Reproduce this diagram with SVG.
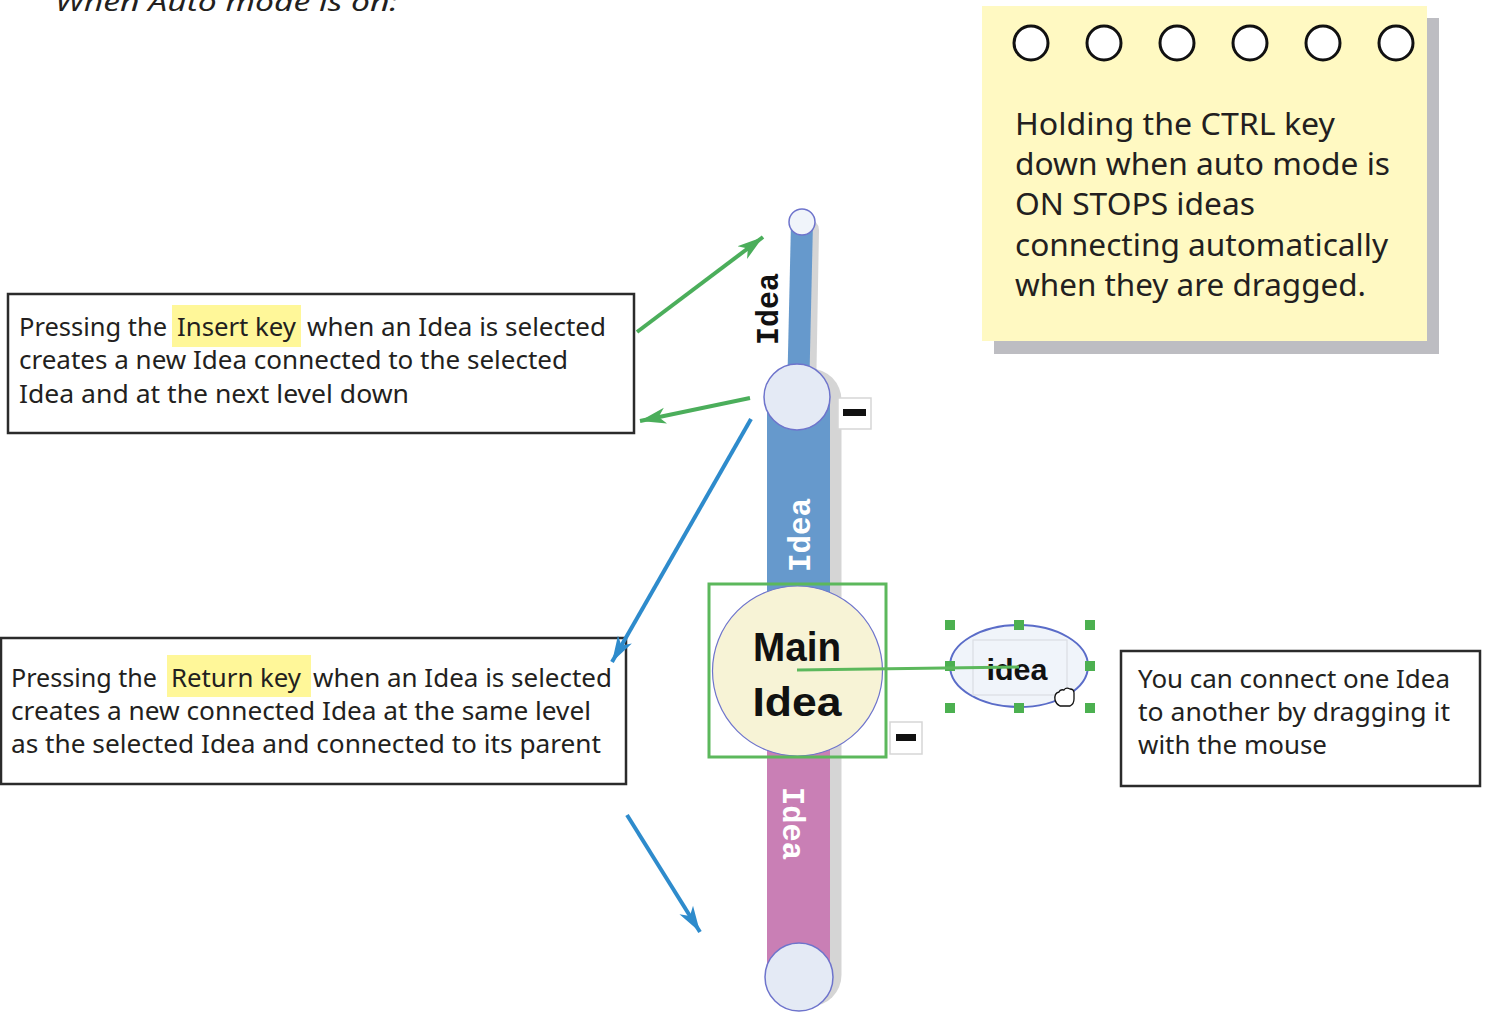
<svg xmlns="http://www.w3.org/2000/svg" width="1487" height="1018" viewBox="0 0 1487 1018">
  <style>
    .note { font-family: "Noto Sans", "Open Sans", sans-serif; font-size: 26px; fill: #231F20; }
    .sticky { font-family: "Noto Sans", "Open Sans", sans-serif; font-size: 30px; fill: #231F20; }
    .box { fill: #FFFFFF; stroke: #2B2B2B; stroke-width: 2.5; }
    .hl { fill: #FFF799; }
    .ring { fill: #FFFFFF; stroke: #111111; stroke-width: 3; }
    .lbl { font-family: "Liberation Mono", "DejaVu Sans Mono", monospace; font-weight: bold; font-size: 32px; }
    .bubble { fill: #E4EAF5; stroke: #6E74CC; stroke-width: 1.5; }
    .minus-box { fill: #FFFFFF; stroke: #D6D6D6; stroke-width: 1.5; }
    .handle { fill: #4CB050; }
    .green { stroke: #4BAE5B; stroke-width: 4; fill: none; }
    .blue { stroke: #2E8BCC; stroke-width: 4; fill: none; }
  </style>
  <defs>
    <marker id="head-green" markerUnits="userSpaceOnUse" markerWidth="28" markerHeight="18" refX="26" refY="9" orient="auto">
      <path d="M0,1 L26,9 L0,17 L7,9 z" fill="#4BAE5B"/>
    </marker>
    <marker id="head-blue" markerUnits="userSpaceOnUse" markerWidth="28" markerHeight="18" refX="26" refY="9" orient="auto">
      <path d="M0,1 L26,9 L0,17 L7,9 z" fill="#2E8BCC"/>
    </marker>
  </defs>

  <rect width="1487" height="1018" fill="#FFFFFF"/>

  <!-- heading, mostly cropped at the top edge -->
  <text x="55" y="11" class="note" font-size="29" font-style="italic" textLength="343" lengthAdjust="spacingAndGlyphs">When Auto mode is on:</text>

  <!-- sticky note about the CTRL key -->
  <g id="sticky-note">
    <rect x="994" y="18" width="445" height="336" fill="#BDBDC2"/>
    <rect x="982" y="6" width="445" height="335" fill="#FFF9C2"/>
    <circle cx="1031" cy="43" r="17" class="ring"/>
    <circle cx="1104" cy="43" r="17" class="ring"/>
    <circle cx="1177" cy="43" r="17" class="ring"/>
    <circle cx="1250" cy="43" r="17" class="ring"/>
    <circle cx="1323" cy="43" r="17" class="ring"/>
    <circle cx="1396" cy="43" r="17" class="ring"/>
    <text x="1015" y="135" class="sticky" textLength="320" lengthAdjust="spacingAndGlyphs">Holding the CTRL key</text>
    <text x="1015" y="175" class="sticky" textLength="375" lengthAdjust="spacingAndGlyphs">down when auto mode is</text>
    <text x="1015" y="215" class="sticky" textLength="240" lengthAdjust="spacingAndGlyphs">ON STOPS ideas</text>
    <text x="1015" y="256" class="sticky" textLength="373" lengthAdjust="spacingAndGlyphs">connecting automatically</text>
    <text x="1015" y="296" class="sticky" textLength="351" lengthAdjust="spacingAndGlyphs">when they are dragged.</text>
  </g>

  <!-- Insert key note -->
  <g id="insert-note">
    <rect x="8" y="294" width="626" height="139" class="box"/>
    <rect x="172" y="305" width="129" height="42" class="hl"/>
    <text x="19" y="336" class="note" textLength="148" lengthAdjust="spacingAndGlyphs">Pressing the</text>
    <text x="177" y="336" class="note" textLength="119" lengthAdjust="spacingAndGlyphs">Insert key</text>
    <text x="307" y="336" class="note" textLength="299" lengthAdjust="spacingAndGlyphs">when an Idea is selected</text>
    <text x="19" y="369" class="note" textLength="549" lengthAdjust="spacingAndGlyphs">creates a new Idea connected to the selected</text>
    <text x="19" y="403" class="note" textLength="390" lengthAdjust="spacingAndGlyphs">Idea and at the next level down</text>
  </g>

  <!-- Return key note -->
  <g id="return-note">
    <rect x="1" y="638" width="625" height="146" class="box"/>
    <rect x="167" y="655" width="144" height="42" class="hl"/>
    <text x="11" y="687" class="note" textLength="146" lengthAdjust="spacingAndGlyphs">Pressing the</text>
    <text x="171" y="687" class="note" textLength="130" lengthAdjust="spacingAndGlyphs">Return key</text>
    <text x="313" y="687" class="note" textLength="299" lengthAdjust="spacingAndGlyphs">when an Idea is selected</text>
    <text x="11" y="720" class="note" textLength="580" lengthAdjust="spacingAndGlyphs">creates a new connected Idea at the same level</text>
    <text x="11" y="753" class="note" textLength="590" lengthAdjust="spacingAndGlyphs">as the selected Idea and connected to its parent</text>
  </g>

  <!-- drag note -->
  <g id="drag-note">
    <rect x="1121" y="651" width="359" height="135" class="box"/>
    <text x="1138" y="688" class="note" textLength="312" lengthAdjust="spacingAndGlyphs">You can connect one Idea</text>
    <text x="1138" y="721" class="note" textLength="312" lengthAdjust="spacingAndGlyphs">to another by dragging it</text>
    <text x="1138" y="754" class="note" textLength="189" lengthAdjust="spacingAndGlyphs">with the mouse</text>
  </g>

  <!-- mind map: drop shadows of the branches -->
  <g id="branch-shadows" fill="none" stroke="#D5D5D5" stroke-linecap="round">
    <line x1="808" y1="230" x2="805" y2="397" stroke-width="22"/>
    <line x1="810" y1="400" x2="810" y2="975" stroke-width="63"/>
  </g>

  <!-- upper branch (next level down) -->
  <g id="idea-top">
    <line x1="802" y1="222" x2="798" y2="397" stroke="#6699CC" stroke-width="22"/>
    <circle cx="802" cy="222" r="13" fill="#F0F4FA" stroke="#6E74CC" stroke-width="1.5"/>
    <text class="lbl" fill="#111111" transform="translate(778 345) rotate(-90)" textLength="72" lengthAdjust="spacingAndGlyphs">Idea</text>
  </g>

  <!-- blue branch to the main idea -->
  <g id="idea-blue">
    <rect x="767" y="397" width="63" height="200" fill="#6699CC"/>
    <text class="lbl" fill="#FFFFFF" transform="translate(810 572) rotate(-90)" textLength="74" lengthAdjust="spacingAndGlyphs">Idea</text>
    <circle cx="797" cy="397" r="33" class="bubble"/>
    <rect x="838" y="398" width="33" height="31" class="minus-box"/>
    <rect x="843" y="409" width="23" height="7" fill="#111111"/>
  </g>

  <!-- pink branch below the main idea -->
  <g id="idea-pink">
    <rect x="767" y="745" width="63" height="232" fill="#C97FB5"/>
    <text class="lbl" fill="#FFFFFF" transform="translate(783 787) rotate(90)" textLength="73" lengthAdjust="spacingAndGlyphs">Idea</text>
    <circle cx="799" cy="977" r="34" class="bubble" stroke="#5A6CC8" stroke-width="2"/>
  </g>

  <!-- main idea, selected -->
  <g id="main-idea">
    <circle cx="797.5" cy="671" r="85" fill="#F7F3D6" stroke="#6E74CC" stroke-width="1.2"/>
    <rect x="709" y="584" width="177" height="173" fill="none" stroke="#5CB85C" stroke-width="3"/>
    <text x="797" y="661" text-anchor="middle" font-family="'Liberation Sans', Arial, sans-serif" font-weight="bold" font-size="40" fill="#111111" textLength="88" lengthAdjust="spacingAndGlyphs">Main</text>
    <text x="797" y="716" text-anchor="middle" font-family="'Liberation Sans', Arial, sans-serif" font-weight="bold" font-size="40" fill="#111111" textLength="89" lengthAdjust="spacingAndGlyphs">Idea</text>
    <rect x="890" y="722" width="32" height="32" class="minus-box"/>
    <rect x="896" y="734" width="20" height="7" fill="#111111"/>
  </g>

  <!-- dragged idea with its selection handles -->
  <g id="idea-dragged">
    <ellipse cx="1019" cy="666" rx="69" ry="41" fill="#F0F4FA" stroke="#5A6CC8" stroke-width="2"/>
    <rect x="973" y="640" width="94" height="55" fill="none" stroke="#DADDE3" stroke-width="1.2"/>
    <text x="1017" y="680" text-anchor="middle" font-family="'Liberation Sans', Arial, sans-serif" font-weight="bold" font-size="30" fill="#111111" textLength="61" lengthAdjust="spacingAndGlyphs">idea</text>
    <rect x="945" y="620" width="10" height="10" class="handle"/>
    <rect x="1014" y="620" width="10" height="10" class="handle"/>
    <rect x="1085" y="620" width="10" height="10" class="handle"/>
    <rect x="945" y="661" width="10" height="10" class="handle"/>
    <rect x="1085" y="661" width="10" height="10" class="handle"/>
    <rect x="945" y="703" width="10" height="10" class="handle"/>
    <rect x="1014" y="703" width="10" height="10" class="handle"/>
    <rect x="1085" y="703" width="10" height="10" class="handle"/>
    <!-- grab cursor -->
    <path d="M1055,700 q-1,-7 4,-8 q1,-3 5,-2 q2,-3 6,-1 q4,0 4,4 l0,6 q0,5 -4,7 l-10,0 q-4,-2 -5,-6 z" fill="#FFFFFF" stroke="#111111" stroke-width="1.3"/>
  </g>

  <!-- connectors -->
  <g id="connectors">
    <line x1="797" y1="670" x2="1019" y2="667" stroke="#5CB85C" stroke-width="3"/>
    <line x1="637" y1="332" x2="763" y2="237" class="green" marker-end="url(#head-green)"/>
    <line x1="750" y1="398" x2="640" y2="421" class="green" marker-end="url(#head-green)"/>
    <line x1="751" y1="419" x2="612" y2="662" class="blue" marker-end="url(#head-blue)"/>
    <line x1="627" y1="815" x2="700" y2="932" class="blue" marker-end="url(#head-blue)"/>
  </g>
</svg>
